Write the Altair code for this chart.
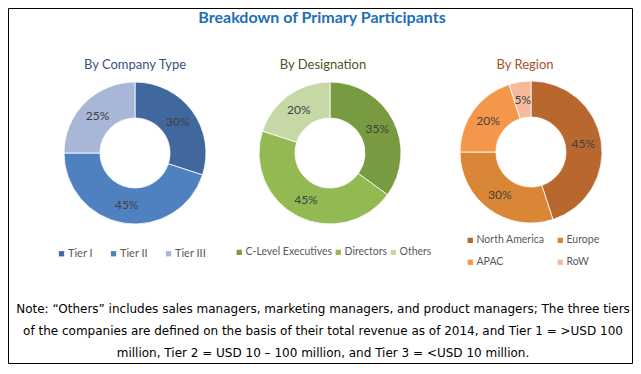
import altair as alt
import pandas as pd

# ---- data ----
TITLE = "Breakdown of Primary Participants"
SUBTITLES = ["By Company Type", "By Designation", "By Region"]

company_cats = ["Tier I", "Tier II", "Tier III"]
company_vals = [30, 45, 25]
company_colors = ["#41689E", "#4F81C0", "#A8B7D8"]

designation_cats = ["C-Level Executives", "Directors", "Others"]
designation_vals = [35, 45, 20]
designation_colors = ["#789A40", "#93BA52", "#C5D8A5"]

region_cats = ["North America", "Europe", "APAC", "RoW"]
region_vals = [45, 30, 20, 5]
region_colors = ["#B8672E", "#D98636", "#F5974A", "#F6B99B"]

NOTE_LINES = [
    "Note: \u201cOthers\u201d includes sales managers, marketing managers, and product managers; The three tiers",
    "of the companies are defined on the basis of their total revenue as of 2014, and Tier 1 = >USD 100",
    "million, Tier 2 = USD 10 \u2013 100 million, and Tier 3 = <USD 10 million.",
]

W, H = 625, 356
one = pd.DataFrame({"k": [0]})


def donut(cats, vals, colors, cx, cy, lx, ly, ncols, colpad, fs=10.5):
    df = pd.DataFrame({"cat": cats, "val": vals, "idx": list(range(len(cats)))})
    df["lbl"] = [f"{v}%" for v in vals]
    base = alt.Chart(df).encode(
        theta=alt.Theta("val:Q", stack=True, scale=alt.Scale(domain=[0, 100])),
        order=alt.Order("idx:Q"),
        x=alt.value(cx),
        y=alt.value(cy),
    )
    arc = base.mark_arc(innerRadius=35, outerRadius=71, stroke="white", strokeWidth=0.8).encode(
        color=alt.Color(
            "cat:N",
            sort=cats,
            scale=alt.Scale(domain=cats, range=colors),
            legend=alt.Legend(
                orient="none", legendX=lx, legendY=ly, direction="horizontal",
                columns=ncols, title=None, symbolType="square", symbolSize=28,
                symbolStrokeWidth=0, labelFont="Lato", labelFontSize=fs,
                labelColor="#595959", columnPadding=colpad, rowPadding=11,
                labelOffset=1, padding=0,
            ),
        )
    )
    txt = base.mark_text(radius=53, font="Lato", fontSize=12, color="#404040").encode(
        text="lbl:N"
    )
    return alt.layer(arc, txt)


d1 = donut(company_cats, company_vals, company_colors, 127, 145, 48, 240, 3, 15, 11)
d2 = donut(designation_cats, designation_vals, designation_colors, 322, 145, 226, 239, 3, 0)
d3 = donut(region_cats, region_vals, region_colors, 523, 144, 457, 227, 2, 10)

border = alt.Chart(one).mark_rect(fillOpacity=0, stroke="black", strokeWidth=1).encode(
    x=alt.value(0.5), x2=alt.value(W - 0.5), y=alt.value(0.5), y2=alt.value(H - 0.5)
)

title = alt.Chart(one).mark_text(
    font="Lato", fontSize=16, fontWeight="bold", color="#1D6FB8", align="center", baseline="top"
).encode(x=alt.value(314), y=alt.value(2), text=alt.value(TITLE))

sub_colors = ["#3A5283", "#4E5529", "#A3541F"]
sub_x = [127, 315, 517]
subs = [
    alt.Chart(one).mark_text(font="Lato", fontSize=13, color=c, align="center", baseline="middle").encode(
        x=alt.value(xx), y=alt.value(57), text=alt.value(s)
    )
    for s, c, xx in zip(SUBTITLES, sub_colors, sub_x)
]

note = alt.Chart(one).mark_text(
    font="DejaVu Sans", fontSize=12, color="black", align="center", baseline="middle", lineHeight=22
).encode(x=alt.value(315), y=alt.value(301), text=alt.value(NOTE_LINES))

chart = (
    alt.layer(border, title, *subs, d1, d2, d3, note)
    .resolve_scale(color="independent", theta="independent")
    .properties(width=W, height=H, autosize=alt.AutoSizeParams(type="none"), padding=0)
    .configure_view(stroke=None)
)

chart.save("out.html", embed_options={"renderer": "svg", "actions": False})
